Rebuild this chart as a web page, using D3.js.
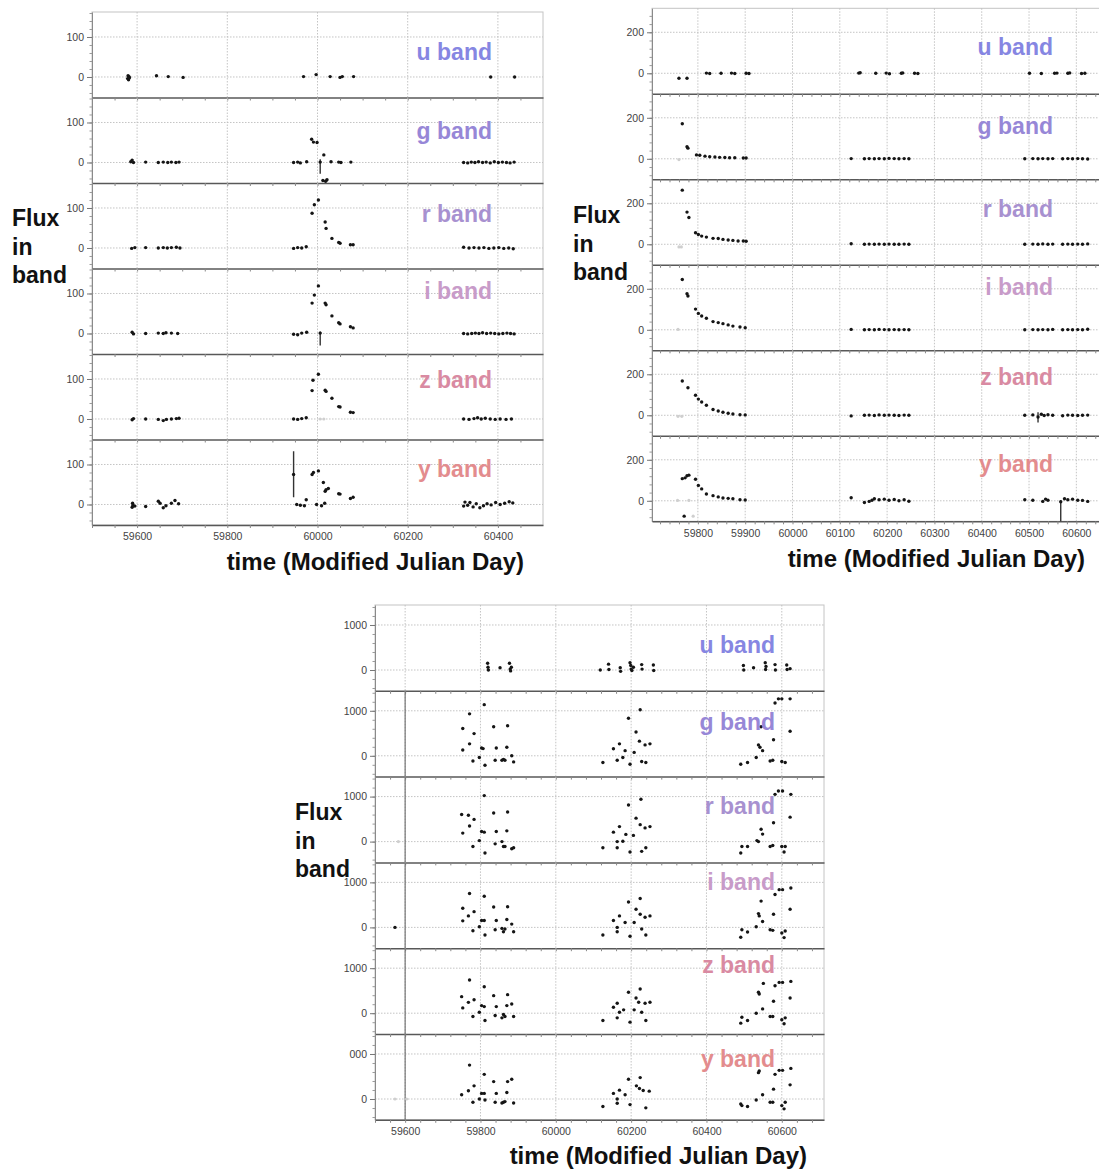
<!DOCTYPE html>
<html>
<head>
<meta charset="utf-8">
<script src="https://cdn.jsdelivr.net/npm/d3@7"></script>
<style>
  body { margin: 0; background: #fff; }
  svg { display: block; font-family: "Liberation Sans", Arial, sans-serif; }
</style>
</head>
<body>
<svg id="chart" width="1099" height="1173"></svg>
<script>
// bands, one row per band in every panel
const bands = ['u', 'g', 'r', 'i', 'z', 'y'];
const bandColors = ['#8686e2', '#9787d7', '#a891d0', '#c89bc9', '#d98aa2', '#e38c8e'];

// tick values
const xTicksA = [59600, 59800, 60000, 60200, 60400];
const xTicksB = [59800, 59900, 60000, 60100, 60200, 60300, 60400, 60500, 60600];
const xTicksC = [59600, 59800, 60000, 60200, 60400, 60600];
const yTicksA = [0, 100];
const yTicksB = [0, 200];
const yTicksC = [0, 1000];
const yTickTextC = ['1000', '1000', '1000', '1000', '1000', '000']; // last one is clipped in the original

// ---- panel A (top left)  [mjd, flux] or [mjd, flux, lo, hi] ----
const aU = [[59579,-4],[59580,3],[59581,-7],[59582,1],[59583,-2],[59643,3],[59669,1],[59702,-1],
  [59969,1],[59997,6],[60028,1],[60050,-1],[60055,1],[60080,1],[60384,0],[60437,0]];
const aG = [[59586,2],[59589,6],[59592,0],[59619,1],[59647,0],[59658,1],[59668,0],[59676,1],[59686,0],[59693,1],
  [59947,0],[59956,1],[59962,-1],[59976,2],[59987,58],[59991,51],[59999,50],[60006,1,-28,8],[60014,19],
  [60012,-45],[60018,-47],[60021,-43],[60030,2],[60047,1],[60052,0],[60074,1],
  [60324,0],[60333,-1],[60341,1],[60349,0],[60357,2],[60366,0],[60374,1],[60383,-1],[60392,2],[60401,0],
  [60410,1],[60419,0],[60427,-1],[60436,1]];
const aR = [[59588,-1],[59595,1],[59619,1],[59647,0],[59658,1],[59667,0],[59676,1],[59687,2],[59695,0],
  [59947,-1],[59956,1],[59965,0],[59975,3],[59988,87],[59993,108],[60002,120],[60017,65],[60019,49],
  [60032,24],[60047,14],[60050,12],[60073,8],[60079,8],
  [60324,2],[60336,0],[60347,1],[60358,0],[60369,1],[60380,-1],[60391,0],[60402,1],[60413,-1],[60424,0],[60434,-2]];
const aI = [[59589,3],[59592,-1],[59619,0],[59647,1],[59658,0],[59664,2],[59676,1],[59690,0],
  [59947,-2],[59956,-3],[59965,1],[59976,3],[59988,76],[59993,96],[60002,119],[60006,1,-30,5],[60017,76],
  [60019,72],[60032,44],[60047,27],[60050,24],[60073,17],[60079,14],
  [60324,0],[60333,-1],[60342,0],[60350,1],[60358,0],[60366,2],[60375,0],[60384,1],[60393,0],[60402,-1],
  [60411,0],[60420,1],[60428,0],[60436,-1]];
const aZ = [[59589,-2],[59592,1],[59619,0],[59647,-1],[59658,-4],[59665,-1],[59676,0],[59687,1],[59693,2],
  [59947,0],[59956,-1],[59965,1],[59975,3],[59988,71],[59990,97],[60002,112],[60017,72],[60019,69],
  [60032,52],[60047,31],[60050,30],[60073,17],[60079,16],
  [60324,0],[60336,-1],[60347,1],[60355,3],[60363,0],[60372,2],[60383,0],[60394,-1],[60405,0],[60418,-1],[60430,0]];
const aY = [[59589,-7],[59590,3],[59591,-2],[59595,-4],[59619,-5],[59647,8],[59651,3],[59658,-8],[59664,-3],
  [59676,3],[59684,10],[59692,2],
  [59947,75,18,133],[59954,0],[59962,-2],[59971,-3],[59975,12],[59988,75],[59991,80],[60002,84],
  [59998,0],[60009,-3],[60016,3],[60013,55],[60017,33],[60019,37],[60024,40],[60047,27],[60050,26],
  [60073,15],[60079,18],
  [60324,-4],[60327,6],[60333,-2],[60338,5],[60345,-6],[60352,2],[60360,-8],[60368,-3],[60376,2],
  [60385,-1],[60395,5],[60405,0],[60415,3],[60425,7],[60433,4]];
const faintA = [['z',60006,0],['z',60014,0]];

// ---- panel B (top right) ----
const bU = [[59760,-24],[59777,-24],[59818,1],[59825,-1],[59849,0],[59871,1],[59878,-1],[59902,0],[59908,-1],
  [60140,1],[60143,3],[60176,0],[60198,1],[60205,-2],[60230,0],[60233,2],[60258,0],[60265,-1],
  [60501,0],[60526,-1],[60554,0],[60559,1],[60582,0],[60586,2],[60611,-1],[60618,0]];
const bG = [[59767,171],[59777,59],[59779,52],[59797,19],[59804,17],[59815,13],[59825,10],[59836,9],
  [59846,7],[59857,6],[59867,5],[59878,5],[59896,4],[59902,4],
  [60124,1],[60152,0],[60162,1],[60173,0],[60183,1],[60194,0],[60204,2],[60215,1],[60225,0],[60236,1],[60246,0],
  [60491,0],[60508,1],[60519,0],[60529,1],[60540,0],[60550,1],[60571,0],[60582,1],[60592,0],[60603,1],
  [60613,0],[60624,-1]];
const bR = [[59767,264],[59777,157],[59781,131],[59795,56],[59801,48],[59808,40],[59818,35],[59832,29],
  [59843,28],[59853,24],[59864,21],[59874,19],[59885,16],[59896,16],[59902,15],
  [60124,3],[60152,0],[60162,1],[60173,0],[60183,1],[60194,0],[60204,1],[60215,0],[60225,0],[60236,1],[60246,0],
  [60491,0],[60508,1],[60519,0],[60529,2],[60540,0],[60550,1],[60571,0],[60582,1],[60592,0],[60603,1],
  [60613,0],[60624,2]];
const bI = [[59767,245],[59777,176],[59779,165],[59795,101],[59801,80],[59808,67],[59818,56],[59832,40],
  [59843,35],[59853,30],[59864,24],[59874,18],[59889,14],[59900,10],
  [60124,2],[60152,0],[60162,1],[60173,0],[60183,2],[60194,1],[60204,0],[60215,1],[60225,0],[60236,1],[60246,0],
  [60491,0],[60508,1],[60519,0],[60529,1],[60540,0],[60550,2],[60571,0],[60582,1],[60592,0],[60603,1],
  [60613,0],[60624,3]];
const bZ = [[59767,167],[59779,134],[59795,98],[59801,79],[59808,65],[59818,49],[59832,28],[59843,21],
  [59853,15],[59864,10],[59874,6],[59889,3],[59900,2],
  [60124,-3],[60152,0],[60162,1],[60173,-1],[60183,2],[60194,0],[60204,1],[60215,0],[60225,-1],[60236,1],[60246,0],
  [60491,0],[60508,2],[60519,-8,-35,15],[60526,5],[60532,-1],[60540,3],[60550,0],[60571,-2],[60582,1],
  [60592,0],[60603,-1],[60613,0],[60624,1]];
const bY = [[59767,108],[59771,-75],[59773,112],[59777,122],[59781,125],[59795,105],[59801,75],[59808,58],
  [59818,33],[59832,25],[59843,19],[59853,14],[59864,12],[59874,10],[59889,5],[59900,4],
  [60124,15],[60152,-8],[60162,-3],[60168,3],[60173,10],[60183,5],[60194,8],[60204,3],[60215,6],
  [60225,0],[60236,5],[60246,-2],
  [60491,5],[60508,3],[60529,-3],[60535,8],[60540,3],[60567,-5,-108,2],[60575,10],[60582,5],[60592,8],
  [60603,3],[60613,2],[60624,-3]];
const faintB = [['g',59760,-4],['r',59760,-13],['r',59765,-13],['i',59758,2],['z',59758,-5],['z',59766,-5],
  ['y',59757,2],['y',59781,2],['y',59790,-75]];

// ---- panel C (bottom) ----
const cU = [[59819,150],[59820,60],[59821,0],[59852,50],[59877,150],[59879,20],[59880,-20],[59882,60],
  [60118,0],[60140,130],[60141,10],[60171,50],[60172,-30],[60197,160],[60199,100],[60200,20],[60202,-10],
  [60206,60],[60228,120],[60229,20],[60259,110],[60260,-10],
  [60498,100],[60499,0],[60525,50],[60556,160],[60557,10],[60558,80],[60582,120],[60583,0],
  [60613,110],[60614,10],[60622,30]];
const cG = [[59753,607],[59753,130],[59771,932],[59771,265],[59780,-114],[59783,493],[59797,-38],[59803,175],
  [59807,160],[59810,1136],[59812,-211],[59835,644],[59839,-98],[59842,175],[59857,-98],[59861,-80],
  [59865,-98],[59870,190],[59872,667],[59883,0],[59888,-136],
  [60125,-150],[60153,158],[60163,-98],[60169,265],[60178,-38],[60184,114],[60193,833],[60197,-189],
  [60208,76],[60213,530],[60224,1023],[60222,326],[60228,-128],[60237,242],[60239,-150],[60250,265],
  [60491,-189],[60509,-150],[60532,-38],[60538,242],[60542,190],[60549,114],[60545,644],[60569,-114],
  [60576,-98],[60578,356],[60582,1174],[60591,1265],[60600,1265],[60600,-128],[60609,-150],[60622,1265],
  [60622,546]];
const cR = [[59750,602],[59753,189],[59768,587],[59771,348],[59783,493],[59780,-109],[59797,22],[59803,224],
  [59810,210],[59810,1022],[59812,-254],[59835,637],[59839,-50],[59842,224],[59857,0],[59861,-109],
  [59865,-109],[59870,239],[59872,659],[59883,-159],[59888,-137],
  [60125,-137],[60153,210],[60163,0],[60163,-137],[60169,333],[60178,7],[60186,160],[60193,812],
  [60197,-232],[60206,138],[60213,521],[60224,377],[60226,942],[60228,-217],[60237,304],[60239,-137],
  [60250,333],
  [60491,-254],[60494,-109],[60509,-109],[60534,22],[60538,0],[60545,275],[60549,167],[60569,-109],
  [60576,-87],[60578,420],[60582,1050],[60591,1123],[60602,1123],[60600,-109],[60606,-232],[60609,-109],
  [60624,1050],[60622,543]];
const cI = [[59573,0],[59753,424],[59753,146],[59771,752],[59768,256],[59783,350],[59780,-73],[59797,14],
  [59803,154],[59810,154],[59810,693],[59812,-168],[59835,453],[59839,-51],[59842,154],[59857,-22],
  [59861,-95],[59865,-37],[59870,175],[59872,460],[59883,73],[59888,-95],
  [60125,-168],[60153,154],[60163,-95],[60163,0],[60169,256],[60184,110],[60193,563],[60197,-197],
  [60208,110],[60213,402],[60224,642],[60224,292],[60228,-37],[60237,226],[60239,-168],[60250,256],
  [60491,-219],[60494,-51],[60509,-102],[60532,14],[60538,307],[60540,256],[60545,584],[60549,131],
  [60569,-51],[60576,-66],[60578,292],[60582,730],[60593,839],[60602,839],[60600,-124],[60606,-226],
  [60609,-80],[60624,876],[60622,402]];
const cZ = [[59750,368],[59753,118],[59768,241],[59771,736],[59780,-74],[59783,300],[59797,22],[59803,169],
  [59810,147],[59810,589],[59812,-162],[59835,390],[59839,-52],[59842,147],[59857,-103],[59861,-30],
  [59865,-74],[59870,169],[59872,412],[59883,205],[59888,-74],
  [60125,-162],[60153,133],[60163,221],[60163,-103],[60169,22],[60180,74],[60193,464],[60197,-199],
  [60208,74],[60213,338],[60220,243],[60224,537],[60228,22],[60237,221],[60239,-162],[60250,243],
  [60491,-221],[60494,-89],[60509,-162],[60532,0],[60538,464],[60540,427],[60549,96],[60551,662],
  [60569,-74],[60576,-74],[60578,265],[60582,611],[60593,684],[60602,684],[60600,-147],[60606,-235],
  [60609,-103],[60624,706],[60622,338]];
const cY = [[59750,95],[59768,183],[59771,753],[59783,292],[59780,-73],[59797,0],[59803,124],[59810,124],
  [59810,548],[59812,-22],[59835,387],[59839,-73],[59842,124],[59857,-88],[59861,-73],[59865,-58],
  [59870,146],[59872,387],[59883,438],[59888,-88],
  [60125,-168],[60153,124],[60163,-95],[60163,0],[60169,197],[60184,95],[60193,438],[60197,-124],
  [60214,292],[60224,475],[60222,234],[60232,190],[60239,-197],[60248,175],
  [60491,-110],[60494,-146],[60509,-168],[60532,-22],[60538,585],[60540,621],[60549,95],[60569,-73],
  [60576,-73],[60578,219],[60582,548],[60593,636],[60602,636],[60600,-146],[60606,-219],[60609,-73],
  [60624,680],[60622,314]];
const faintC = [['r',59582,0],['y',59573,0],['y',59604,0]];
// long error bar running through the g..y rows at the start of panel C
const spikesC = [['g',59600],['r',59600],['i',59600],['z',59600],['y',59600]];

// ---- layout ----
const panels = [
  { left: 92, right: 543, top: 12, rowH: 85.5, xDomain: [59500, 60500], yDomain: [-51.3, 162.5],
    xTicks: xTicksA, xMinor: 50, yTicks: yTicksA, yMinor: 20, yText: null,
    rows: [aU, aG, aR, aI, aZ, aY], faint: faintA, spikes: [],
    labelX: 492, labelDy: [48, 41, 39, 30, 34, 37], fluxX: 12, fluxY: 226, titleX: 524, titleY: 570 },
  { left: 652, right: 1100, top: 8.3, rowH: 85.5, xDomain: [59703, 60650], yDomain: [-100, 317],
    xTicks: xTicksB, xMinor: 20, yTicks: yTicksB, yMinor: 40, yText: null,
    rows: [bU, bG, bR, bI, bZ, bY], faint: faintB, spikes: [],
    labelX: 1053, labelDy: [47, 40, 38, 30, 35, 36], fluxX: 573, fluxY: 223, titleX: 1085, titleY: 567 },
  { left: 375, right: 824, top: 605, rowH: 85.8, xDomain: [59520, 60712], yDomain: [-462, 1444],
    xTicks: xTicksC, xMinor: 40, yTicks: yTicksC, yMinor: 200, yText: yTickTextC,
    rows: [cU, cG, cR, cI, cZ, cY], faint: faintC, spikes: spikesC,
    labelX: 775, labelDy: [48, 39, 37, 28, 25, 33], fluxX: 295, fluxY: 820, titleX: 807, titleY: 1164 }
];

const svg = d3.select('#chart');
const defs = svg.append('defs');

panels.forEach((p, pi) => {
  const g = svg.append('g').attr('class', 'panel');
  const x = d3.scaleLinear().domain(p.xDomain).range([p.left, p.right]);
  const bottom = p.top + p.rowH * bands.length;

  // light outer frame
  g.append('rect')
    .attr('x', p.left).attr('y', p.top)
    .attr('width', p.right - p.left).attr('height', bottom - p.top)
    .attr('fill', 'none').attr('stroke', '#c4c4c4').attr('stroke-width', 1);

  const xMinorVals = d3.range(Math.ceil(p.xDomain[0] / p.xMinor) * p.xMinor, p.xDomain[1], p.xMinor);
  const yMinorVals = d3.range(Math.ceil(p.yDomain[0] / p.yMinor) * p.yMinor, p.yDomain[1], p.yMinor);

  bands.forEach((band, i) => {
    const top = p.top + i * p.rowH;
    const bot = top + p.rowH;
    const y = d3.scaleLinear().domain(p.yDomain).range([bot, top]);
    const row = g.append('g').attr('class', 'row-' + band);

    const clipId = `clip-${pi}-${i}`;
    defs.append('clipPath').attr('id', clipId)
      .append('rect').attr('x', p.left).attr('y', top).attr('width', p.right - p.left).attr('height', p.rowH);

    // dotted grid
    row.append('g').selectAll('line.vg').data(p.xTicks).join('line')
      .attr('x1', d => x(d)).attr('x2', d => x(d)).attr('y1', top).attr('y2', bot)
      .attr('stroke', '#bdbdbd').attr('stroke-width', 0.9).attr('stroke-dasharray', '1.5,1.5');
    row.append('g').selectAll('line.hg').data(p.yTicks).join('line')
      .attr('x1', p.left).attr('x2', p.right).attr('y1', d => y(d)).attr('y2', d => y(d))
      .attr('stroke', '#bdbdbd').attr('stroke-width', 0.9).attr('stroke-dasharray', '1.5,1.5');

    // y axis: minor ticks, then labelled major ticks
    const yMinorAxis = row.append('g').attr('transform', `translate(${p.left},0)`)
      .call(d3.axisLeft(y).tickValues(yMinorVals).tickSize(2.5).tickSizeOuter(0).tickFormat(''));
    yMinorAxis.select('.domain').attr('stroke', '#8a8a8a');
    yMinorAxis.selectAll('.tick line').attr('stroke', '#9a9a9a');

    const yMajor = row.append('g').attr('transform', `translate(${p.left},0)`)
      .call(d3.axisLeft(y).tickValues(p.yTicks).tickSize(5).tickPadding(3)
        .tickFormat(d => (p.yText && d !== 0) ? p.yText[i] : String(d)));
    yMajor.select('.domain').remove();
    yMajor.selectAll('.tick line').attr('stroke', '#777');
    yMajor.selectAll('text').attr('font-size', 10.5).attr('fill', '#444')
      .attr('font-family', '"Liberation Sans", Arial, sans-serif');

    // x axis at the bottom of every row (the dark dividers)
    const isLast = i === bands.length - 1;
    const xAxis = row.append('g').attr('transform', `translate(0,${bot})`)
      .call(d3.axisBottom(x).tickValues(xMinorVals).tickSize(3).tickSizeOuter(0).tickPadding(5)
        .tickFormat(d => (isLast && p.xTicks.includes(d)) ? String(d) : ''));
    xAxis.select('.domain').attr('stroke', '#585858').attr('stroke-width', 1.5);
    xAxis.selectAll('.tick line').attr('stroke', '#888');
    xAxis.selectAll('text').attr('font-size', 10.5).attr('fill', '#444')
      .attr('font-family', '"Liberation Sans", Arial, sans-serif');

    // marks
    const marks = row.append('g').attr('clip-path', `url(#${clipId})`);

    marks.selectAll('line.spike').data(p.spikes.filter(s => s[0] === band)).join('line')
      .attr('x1', d => x(d[1])).attr('x2', d => x(d[1])).attr('y1', top).attr('y2', bot)
      .attr('stroke', '#6a6a6a').attr('stroke-width', 1.1);

    marks.selectAll('circle.faint').data(p.faint.filter(f => f[0] === band)).join('circle')
      .attr('cx', d => x(d[1])).attr('cy', d => y(d[2])).attr('r', 1.6).attr('fill', '#cfcfcf');

    const data = p.rows[i];
    marks.selectAll('line.err').data(data.filter(d => d.length > 2)).join('line')
      .attr('x1', d => x(d[0])).attr('x2', d => x(d[0]))
      .attr('y1', d => y(d[2])).attr('y2', d => y(d[3]))
      .attr('stroke', '#333').attr('stroke-width', 1.4);

    marks.selectAll('circle.pt').data(data).join('circle')
      .attr('cx', d => x(d[0])).attr('cy', d => y(d[1])).attr('r', 1.7).attr('fill', '#151515');

    // band label
    row.append('text')
      .attr('x', p.labelX).attr('y', top + p.labelDy[i])
      .attr('text-anchor', 'end').attr('font-size', 23).attr('font-weight', 'bold')
      .attr('fill', bandColors[i]).text(`${band} band`);
  });

  // axis titles
  const flux = g.append('text').attr('font-size', 23).attr('font-weight', 'bold').attr('fill', '#111');
  ['Flux', 'in', 'band'].forEach((w, k) => {
    flux.append('tspan').attr('x', p.fluxX).attr('y', p.fluxY + k * 28.5).text(w);
  });
  g.append('text').attr('x', p.titleX).attr('y', p.titleY)
    .attr('text-anchor', 'end').attr('font-size', 24).attr('font-weight', 'bold').attr('fill', '#111')
    .text('time (Modified Julian Day)');
});
</script>
</body>
</html>
